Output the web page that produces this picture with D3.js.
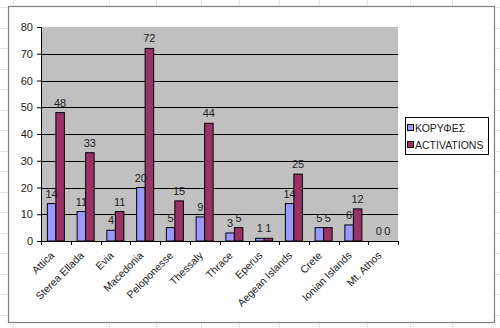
<!DOCTYPE html>
<html>
<head>
<meta charset="utf-8">
<script src="https://cdn.jsdelivr.net/npm/d3@7/dist/d3.min.js"></script>
<style>
  body { margin: 0; background: #fff; }
  text { font-family: "Liberation Sans", Arial, sans-serif; fill: #222; }
</style>
</head>
<body>
<div id="container"></div>
<script>
var regions = ['Attica', 'Sterea Ellada', 'Evia', 'Macedonia', 'Peloponesse', 'Thessaly',
               'Thrace', 'Eperus', 'Aegean Islands', 'Crete', 'Ionian Islands', 'Mt. Athos'],
    seriesNames = ['ΚΟΡΥΦΕΣ', 'ACTIVATIONS'],
    peaks = [14, 11, 4, 20, 5, 9, 3, 1, 14, 5, 6, 0],
    activations = [48, 33, 11, 72, 15, 44, 5, 1, 25, 5, 12, 0],
    yTicks = [0, 10, 20, 30, 40, 50, 60, 70, 80],
    sheetCols = [13, 109, 156, 201, 239, 279, 319, 367, 410, 452],
    colors = ['#9999FF', '#993366'],
    width = 500,
    height = 328,
    plot = { left: 41, top: 27, right: 398, bottom: 241 },
    svg, x, x1, y, g, legend, rows = [], i;

svg = d3.select('#container').append('svg')
  .attr('width', width)
  .attr('height', height);

// spreadsheet grid behind the chart object
for (i = 7; i < height; i += 20.5) { rows.push(i); }
svg.selectAll('line.col').data(sheetCols).enter().append('line')
  .attr('x1', function (d) { return d + 0.5; }).attr('x2', function (d) { return d + 0.5; })
  .attr('y1', 0).attr('y2', height)
  .attr('stroke', '#e4e4e4');
svg.selectAll('line.row').data(rows).enter().append('line')
  .attr('y1', function (d) { return Math.round(d) + 0.5; }).attr('y2', function (d) { return Math.round(d) + 0.5; })
  .attr('x1', 0).attr('x2', width)
  .attr('stroke', '#e4e4e4');

// chart area
svg.append('rect')
  .attr('x', 8.5).attr('y', 6.5).attr('width', 486).attr('height', 316)
  .attr('fill', '#fff').attr('stroke', '#808080').attr('stroke-width', 1.2);

x = d3.scaleBand().domain(regions).range([plot.left, plot.right]).paddingInner(0).paddingOuter(0);
// gap width 150%: 0.75 of a bar on each side of the pair
x1 = d3.scaleBand().domain([0, 1]).range([0, x.bandwidth()]).paddingInner(0).paddingOuter(0.75);
y = d3.scaleLinear().domain([0, 80]).range([plot.bottom, plot.top]);

svg.append('rect')
  .attr('x', plot.left).attr('y', plot.top)
  .attr('width', plot.right - plot.left).attr('height', plot.bottom - plot.top)
  .attr('fill', '#C0C0C0');

svg.selectAll('line.grid').data(yTicks.slice(1, -1)).enter().append('line')
  .attr('x1', plot.left).attr('x2', plot.right)
  .attr('y1', function (d) { return Math.round(y(d)) + 0.5; })
  .attr('y2', function (d) { return Math.round(y(d)) + 0.5; })
  .attr('stroke', '#000').attr('stroke-width', 1);

g = svg.selectAll('g.cat')
  .data(regions.map(function (r, k) { return { name: r, vals: [peaks[k], activations[k]] }; }))
  .enter().append('g')
  .attr('transform', function (d) { return 'translate(' + x(d.name) + ',0)'; });

g.selectAll('rect')
  .data(function (d) { return d.vals; })
  .enter().append('rect')
  .attr('x', function (d, j) { return x1(j); })
  .attr('width', x1.bandwidth())
  .attr('y', function (d) { return y(d); })
  .attr('height', function (d) { return y(0) - y(d); })
  .attr('fill', function (d, j) { return colors[j]; })
  .attr('stroke', '#000').attr('stroke-width', 1)
  .style('display', function (d) { return d > 0 ? null : 'none'; });

g.selectAll('text')
  .data(function (d) { return d.vals; })
  .enter().append('text')
  .attr('x', function (d, j) { return x1(j) + x1.bandwidth() / 2; })
  .attr('y', function (d) { return y(d) - 6; })
  .attr('text-anchor', 'middle')
  .attr('font-size', 11)
  .attr('fill', '#222')
  .text(function (d) { return d; });

// axes
svg.append('g')
  .attr('transform', 'translate(' + plot.left + ',0)')
  .call(d3.axisLeft(y).tickValues(yTicks).tickSize(4).tickPadding(4))
  .call(function (a) {
    a.selectAll('path,line').attr('stroke', '#000');
    a.selectAll('text').attr('font-size', 11).attr('font-family', null).attr('fill', '#222');
  });

svg.append('g')
  .attr('transform', 'translate(0,' + plot.bottom + ')')
  .call(d3.axisBottom(x).tickSize(0).tickFormat(''))
  .call(function (a) { a.select('path').attr('stroke', '#000'); });

svg.selectAll('line.xtick').data(regions.concat([null])).enter().append('line')
  .attr('x1', function (d, k) { return Math.round(plot.left + k * x.bandwidth()) + 0.5; })
  .attr('x2', function (d, k) { return Math.round(plot.left + k * x.bandwidth()) + 0.5; })
  .attr('y1', plot.bottom).attr('y2', plot.bottom + 4)
  .attr('stroke', '#000');

svg.selectAll('text.xlab').data(regions).enter().append('text')
  .attr('class', 'xlab')
  .attr('transform', function (d) {
    return 'translate(' + (x(d) + x.bandwidth() / 2 - 1) + ',' + (plot.bottom + 15) + ') rotate(-45)';
  })
  .attr('text-anchor', 'end')
  .attr('font-size', 10.5)
  .attr('fill', '#222')
  .text(function (d) { return d; });

// legend
legend = svg.append('g').attr('transform', 'translate(405,117)');
legend.append('rect')
  .attr('x', 0.5).attr('y', 0.5).attr('width', 83).attr('height', 37)
  .attr('fill', '#fff').attr('stroke', '#000');
seriesNames.forEach(function (s, k) {
  legend.append('rect')
    .attr('x', 2.5).attr('y', 7.5 + k * 17).attr('width', 6).attr('height', 6)
    .attr('fill', colors[k]).attr('stroke', '#000');
  legend.append('text')
    .attr('x', 10).attr('y', 14.5 + k * 17)
    .attr('font-size', 10.5)
    .attr('fill', '#222')
    .text(s);
});
</script>
</body>
</html>
